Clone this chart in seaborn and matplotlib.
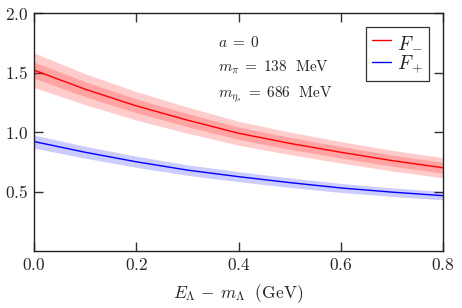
import numpy as np
import pandas as pd
import matplotlib
matplotlib.use("Agg")
import matplotlib.pyplot as plt
import seaborn as sns
from matplotlib.ticker import FuncFormatter

# Data
x = [0.0, 0.1, 0.2, 0.3, 0.4, 0.5, 0.6, 0.7, 0.8]
f_minus = [1.52, 1.36, 1.22, 1.10, 0.99, 0.905, 0.83, 0.76, 0.70]
f_minus_err_outer = [0.145, 0.13, 0.12, 0.11, 0.10, 0.095, 0.09, 0.087, 0.085]
f_minus_err_inner = [0.068, 0.063, 0.058, 0.055, 0.052, 0.05, 0.048, 0.047, 0.046]
f_plus = [0.92, 0.83, 0.75, 0.68, 0.625, 0.575, 0.53, 0.495, 0.465]
f_plus_err = [0.055, 0.05, 0.047, 0.044, 0.042, 0.04, 0.038, 0.036, 0.035]
labels = [r"$F_-$", r"$F_+$"]
xticks = [0.0, 0.2, 0.4, 0.6, 0.8]
yticks = [0.5, 1.0, 1.5, 2.0]

sns.set_style("ticks")
plt.rcParams["mathtext.fontset"] = "cm"
plt.rcParams["font.family"] = ["DejaVu Serif"]

df = pd.DataFrame({
    "x": x * 2,
    "y": f_minus + f_plus,
    "series": [labels[0]] * len(x) + [labels[1]] * len(x),
})

fig = plt.figure(figsize=(4.62, 3.08), dpi=100)
ax = fig.add_axes([0.0736, 0.185, 0.8853, 0.7727])

xa = np.array(x)
fm = np.array(f_minus)
fp = np.array(f_plus)
ax.fill_between(xa, fm - np.array(f_minus_err_outer), fm + np.array(f_minus_err_outer),
                color="red", alpha=0.2, lw=0)
ax.fill_between(xa, fm - np.array(f_minus_err_inner), fm + np.array(f_minus_err_inner),
                color="red", alpha=0.2, lw=0)
ax.fill_between(xa, fp - np.array(f_plus_err), fp + np.array(f_plus_err),
                color="blue", alpha=0.2, lw=0)

sns.lineplot(data=df, x="x", y="y", hue="series", palette=["red", "blue"],
             ax=ax, lw=1.0)

ax.set_xlim(0, 0.8)
ax.set_ylim(0, 2.0)
ax.set_xticks(xticks)
ax.set_yticks(yticks)
fmt = FuncFormatter(lambda v, p: f"${v:.1f}$")
ax.xaxis.set_major_formatter(fmt)
ax.yaxis.set_major_formatter(fmt)
ax.tick_params(direction="in", length=6.5, width=1.0, top=True, right=True,
               labelsize=12.5, color="#333333", pad=4)
for s in ax.spines.values():
    s.set_linewidth(1.0)
    s.set_color("#222222")

ax.set_xlabel(r"$E_\Lambda\,-\,m_\Lambda\ \ (\mathrm{GeV})$", fontsize=12.5, labelpad=6)
ax.set_ylabel("")

tx = 0.45
ax.text(tx, 0.878, r"$a\;=\;0$", transform=ax.transAxes, fontsize=11, va="center")
ax.text(tx, 0.769, r"$m_\pi\;=\;138\ \ \mathrm{MeV}$", transform=ax.transAxes, fontsize=11, va="center")
ax.text(tx, 0.655, r"$m_{\eta_s}\;=\;686\ \ \mathrm{MeV}$", transform=ax.transAxes, fontsize=11, va="center")

leg = ax.legend(loc="upper right", fontsize=14, frameon=True, fancybox=False,
                handlelength=1.0, handletextpad=0.3, borderpad=0.3,
                labelspacing=0.15, borderaxespad=0.7, title=None)
leg.get_frame().set_edgecolor("black")
leg.get_frame().set_linewidth(0.9)

fig.savefig("out.png", dpi=100)
